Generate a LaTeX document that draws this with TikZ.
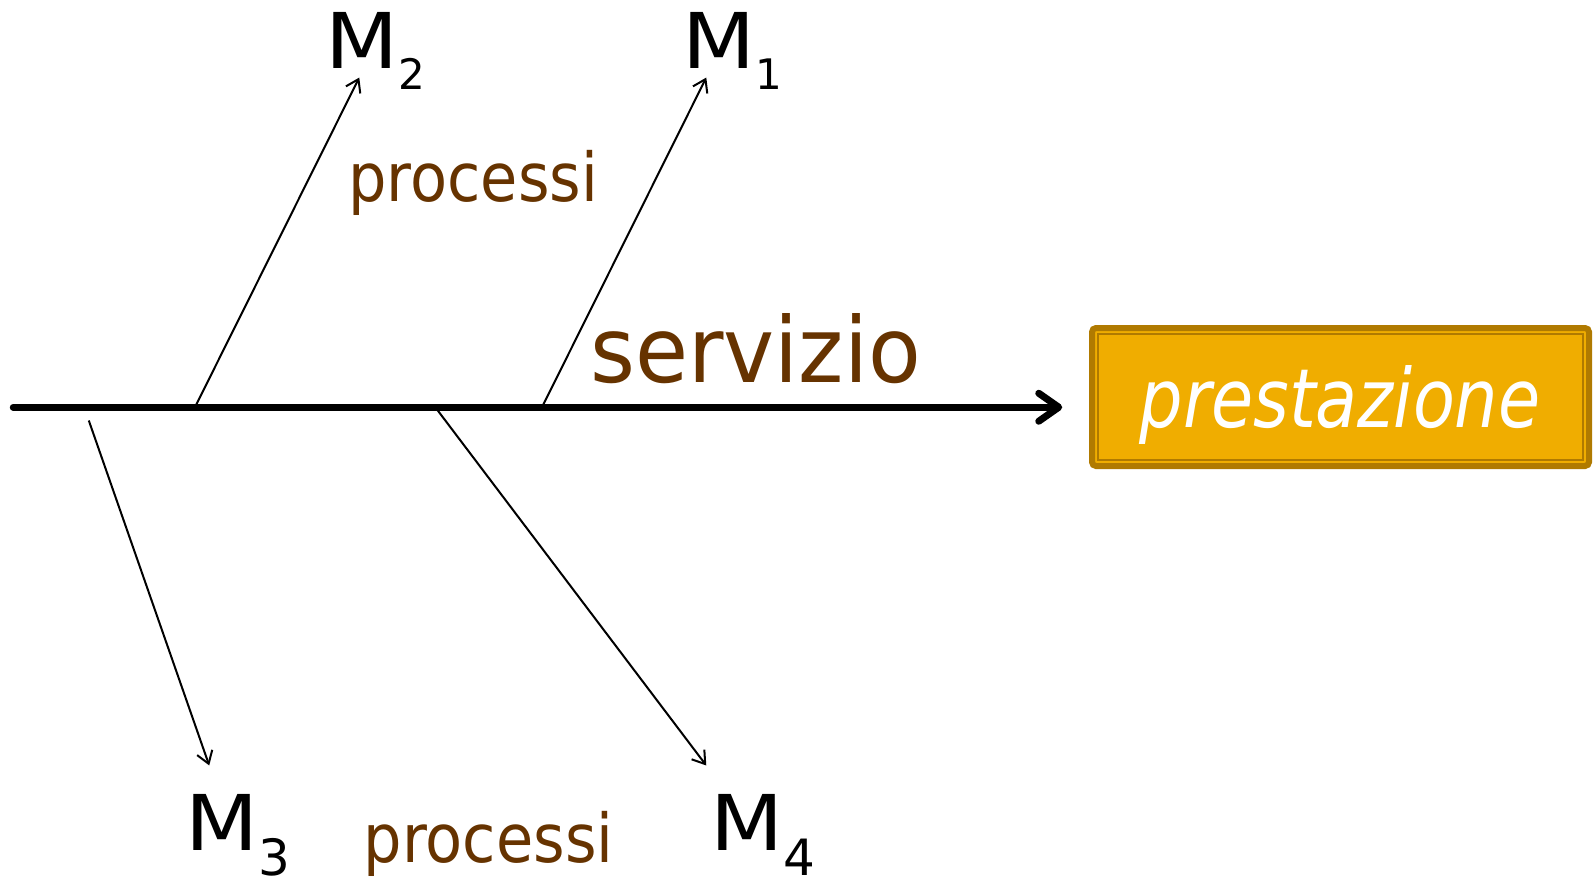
\documentclass[tikz,border=0pt]{standalone}
\usepackage{fontspec}
\setmainfont{DejaVu Sans}
\usetikzlibrary{arrows.meta}
\definecolor{brownt}{RGB}{102,51,0}
\definecolor{boxfill}{RGB}{240,173,0}
\definecolor{boxline}{RGB}{176,122,0}
\newcommand\Mlab[3]{{\fontsize{37.7pt}{40pt}\selectfont\scalebox{1.1}[1]{M}}\raisebox{-#2pt}{\fontsize{#3pt}{#3pt}\selectfont #1}}
\begin{document}
\begin{tikzpicture}[x=0.5pt,y=-0.5pt,
  lbl/.style={inner sep=0pt, anchor=base west},
  brownlbl/.style={lbl, text=brownt},
  branch/.style={line width=1pt, -{Straight Barb[length=6pt,width=8pt]}},
  spine/.style={line width=3.5pt, line cap=round, -{Straight Barb[length=10pt,width=14pt,line cap=round,line join=round]}},
  outbox/.style={draw=boxline, fill=boxfill, line width=3pt, rounded corners=2pt, minimum width=248.5pt, minimum height=69pt, inner sep=0pt},
  inbox/.style={draw=boxline, line width=1pt, minimum width=242.5pt, minimum height=63pt, inner sep=0pt},
]
\useasboundingbox (0,0) rectangle (1593,885);
% box (true coordinates)
\node[outbox] (box) at (1340.5,397) {};
\node[inbox] (boxin) at (box.center) {};
\node[inner sep=0pt, anchor=base, text=white] (prest) at (1340,427) {\fontsize{40.8pt}{44pt}\selectfont\scalebox{0.84}[1]{\itshape prestazione}};
\begin{scope}[scale=1.0204, transform shape]
% spine
\coordinate (s0) at (13,399);
\draw[spine, shorten >=13.5pt] (s0) -- (s0 -| box.west);
% labels
\node[lbl] (M2) at (318.5,67) {\Mlab{2}{10.5}{20.6}};
\node[lbl] (M1) at (668.5,67) {\Mlab{1}{10.5}{20.6}};
\node[lbl] (M3) at (181,833) {\Mlab{3}{12.5}{24.5}};
\node[lbl] (M4) at (696,833) {\Mlab{4}{12.5}{24.5}};
\node[brownlbl] (p1) at (341,197) {\fontsize{33pt}{36pt}\selectfont\scalebox{0.9}[1]{processi}};
\node[brownlbl] (p2) at (356,845) {\fontsize{33pt}{36pt}\selectfont\scalebox{0.9}[1]{processi}};
\node[brownlbl] (serv) at (578,375) {\fontsize{44.5pt}{48pt}\selectfont\scalebox{0.95}[1]{servizio}};
% branches
\coordinate (b2) at (192,397);
\coordinate (t2) at (352,76);
\coordinate (b1) at (532,397);
\coordinate (t1) at (692,76);
\coordinate (b3) at (87,412);
\coordinate (t3) at (205,750);
\coordinate (b4) at (428,401);
\coordinate (t4) at (692,750);
\draw[branch] (b2) -- (t2);
\draw[branch] (b1) -- (t1);
\draw[branch] (b3) -- (t3);
\draw[branch] (b4) -- (t4);
\end{scope}
\end{tikzpicture}
\end{document}
